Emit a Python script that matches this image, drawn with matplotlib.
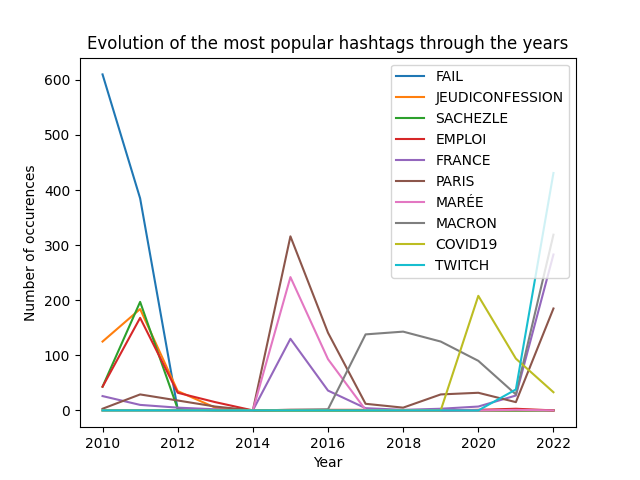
import matplotlib
matplotlib.use("Agg")
import matplotlib.pyplot as plt

years = list(range(2010, 2023))

hashtags = ["FAIL", "JEUDICONFESSION", "SACHEZLE", "EMPLOI", "FRANCE",
            "PARIS", "MARÉE", "MACRON", "COVID19", "TWITCH"]

fail = [610, 385, 2, 0, 0, 0, 0, 0, 0, 0, 0, 0, 0]
jeudiconfession = [125, 184, 35, 5, 0, 0, 0, 0, 0, 0, 0, 0, 0]
sachezle = [43, 197, 3, 0, 0, 0, 0, 0, 0, 0, 0, 0, 0]
emploi = [43, 168, 32, 15, 0, 1, 1, 1, 0, 0, 1, 3, 0]
france = [26, 10, 5, 2, 0, 130, 36, 4, 1, 3, 7, 27, 283]
paris = [3, 29, 18, 7, 0, 316, 141, 12, 5, 29, 32, 15, 185]
maree = [0, 0, 0, 0, 0, 242, 93, 1, 0, 0, 0, 1, 0]
macron = [0, 0, 0, 0, 0, 1, 2, 138, 143, 125, 90, 29, 319]
covid19 = [0, 0, 0, 0, 0, 0, 0, 0, 0, 0, 208, 94, 33]
twitch = [0, 0, 0, 0, 0, 0, 0, 0, 0, 0, 0, 38, 431]

series = [fail, jeudiconfession, sachezle, emploi, france,
          paris, maree, macron, covid19, twitch]

fig, ax = plt.subplots(figsize=(6.4, 4.8), dpi=100)
for name, values in zip(hashtags, series):
    ax.plot(years, values, label=name)

ax.set_title("Evolution of the most popular hashtags through the years")
ax.set_xlabel("Year")
ax.set_ylabel("Number of occurences")
ax.legend(loc="upper right")

plt.savefig("out.png")
